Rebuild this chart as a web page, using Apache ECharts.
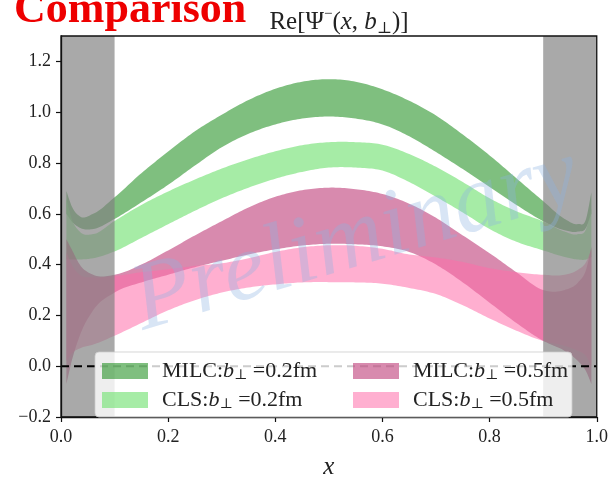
<!DOCTYPE html>
<html>
<head>
<meta charset="utf-8">
<script src="https://cdn.jsdelivr.net/npm/echarts@6/dist/echarts.min.js"></script>
<style>
  html, body { margin: 0; padding: 0; background: #ffffff; }
  #chart { width: 611px; height: 485px; }
</style>
</head>
<body>
<div id="chart"></div>
<script>
// Sample positions in x (momentum fraction)
const xs = [0.01, 0.02, 0.035, 0.06, 0.1, 0.15, 0.2, 0.25, 0.3, 0.35, 0.4, 0.45, 0.5,
            0.55, 0.6, 0.65, 0.7, 0.75, 0.8, 0.85, 0.9, 0.94, 0.965, 0.98, 0.99];

// MILC, b_perp = 0.2 fm
const milc02Hi = [0.69, 0.63, 0.59, 0.60, 0.665, 0.76, 0.845, 0.925, 0.99, 1.048, 1.092, 1.12, 1.13,
                  1.12, 1.09, 1.045, 0.987, 0.912, 0.83, 0.74, 0.65, 0.58, 0.56, 0.58, 0.685];
const milc02Lo = [0.60, 0.57, 0.545, 0.54, 0.58, 0.645, 0.714, 0.79, 0.862, 0.915, 0.952, 0.975, 0.983,
                  0.975, 0.952, 0.905, 0.843, 0.776, 0.706, 0.635, 0.571, 0.535, 0.53, 0.545, 0.60];

// CLS, b_perp = 0.2 fm
const cls02Hi = [0.66, 0.58, 0.53, 0.52, 0.572, 0.635, 0.688, 0.735, 0.778, 0.815, 0.846, 0.87, 0.882,
                 0.882, 0.872, 0.835, 0.785, 0.725, 0.661, 0.61, 0.57, 0.53, 0.52, 0.54, 0.62];
const cls02Lo = [0.42, 0.42, 0.42, 0.425, 0.452, 0.505, 0.559, 0.612, 0.661, 0.703, 0.738, 0.765, 0.782,
                 0.782, 0.77, 0.725, 0.667, 0.605, 0.54, 0.49, 0.456, 0.43, 0.42, 0.42, 0.43];

// MILC, b_perp = 0.5 fm
const milc05Hi = [0.50, 0.46, 0.40, 0.36, 0.36, 0.40, 0.456, 0.515, 0.571, 0.625, 0.667, 0.693, 0.703,
                  0.697, 0.678, 0.64, 0.584, 0.515, 0.445, 0.37, 0.30, 0.30, 0.33, 0.38, 0.47];
const milc05Lo = [-0.07, 0.02, 0.12, 0.22, 0.29, 0.33, 0.36, 0.39, 0.415, 0.44, 0.46, 0.475, 0.482,
                  0.48, 0.472, 0.45, 0.40, 0.33, 0.25, 0.17, 0.10, 0.06, 0.02, -0.02, -0.07];

// CLS, b_perp = 0.5 fm
const cls05Hi = [0.45, 0.40, 0.36, 0.35, 0.355, 0.37, 0.382, 0.395, 0.405, 0.425, 0.45, 0.468, 0.476,
                 0.474, 0.462, 0.44, 0.428, 0.41, 0.386, 0.37, 0.36, 0.36, 0.38, 0.41, 0.46];
const cls05Lo = [0.02, 0.05, 0.07, 0.085, 0.12, 0.17, 0.22, 0.26, 0.29, 0.31, 0.322, 0.33, 0.331,
                 0.33, 0.325, 0.308, 0.284, 0.24, 0.188, 0.14, 0.099, 0.08, 0.06, 0.04, 0.0];

// Endpoint regions that are shaded out
const excludedRanges = [[0.0, 0.1], [0.9, 1.0]];

// Axis ticks
const xTicks = [0.0, 0.2, 0.4, 0.6, 0.8, 1.0];
const yTicks = [-0.2, 0.0, 0.2, 0.4, 0.6, 0.8, 1.0, 1.2];
const yMin = -0.2, yMax = 1.3;

const seriesNames = {
  milc02: 'MILC:b⊥ =0.2fm',
  cls02: 'CLS:b⊥ =0.2fm',
  milc05: 'MILC:b⊥ =0.5fm',
  cls05: 'CLS:b⊥ =0.5fm'
};

const SERIF = '"Liberation Serif", "DejaVu Serif", serif';

// Cubic Hermite interpolation with three-point derivative estimates
function smoothCurve(x, y, steps) {
  const n = x.length;
  const h = [], d = [], m = new Array(n);
  for (let i = 0; i < n - 1; i++) {
    h.push(x[i + 1] - x[i]);
    d.push((y[i + 1] - y[i]) / h[i]);
  }
  m[0] = d[0];
  m[n - 1] = d[n - 2];
  for (let i = 1; i < n - 1; i++) {
    m[i] = (d[i - 1] * h[i] + d[i] * h[i - 1]) / (h[i - 1] + h[i]);
  }
  const out = [];
  for (let i = 0; i < n - 1; i++) {
    for (let s = 0; s < steps; s++) {
      const t = s / steps, t2 = t * t, t3 = t2 * t;
      const v = (2 * t3 - 3 * t2 + 1) * y[i] + (t3 - 2 * t2 + t) * h[i] * m[i]
              + (-2 * t3 + 3 * t2) * y[i + 1] + (t3 - t2) * h[i] * m[i + 1];
      out.push([x[i] + t * h[i], v]);
    }
  }
  out.push([x[n - 1], y[n - 1]]);
  return out;
}

// A shaded band between a lower and an upper curve
function band(name, lo, hi, color) {
  return {
    type: 'custom', name: name, silent: true, z: 2, clip: true,
    data: xs.map((x, i) => [x, lo[i], hi[i]]),
    encode: { x: 0, y: [1, 2] },
    itemStyle: { color: color },
    renderItem: function (params, api) {
      if (params.dataIndex !== 0) return null;
      const upper = smoothCurve(xs, hi, 12).map(p => api.coord(p));
      const lower = smoothCurve(xs, lo, 12).map(p => api.coord(p)).reverse();
      return {
        type: 'polygon',
        shape: { points: upper.concat(lower) },
        style: { fill: color }
      };
    }
  };
}

function richName(name) {
  const parts = name.split('b⊥');
  return parts[0] + '{i|b}{s|⊥}' + parts[1];
}

const legendText = {
  fontFamily: SERIF, fontSize: 22, color: '#222', lineHeight: 22,
  padding: [0, 0, 0, 9],
  rich: {
    i: { fontFamily: SERIF, fontSize: 22, fontStyle: 'italic', color: '#222', lineHeight: 22 },
    s: { fontFamily: SERIF, fontSize: 14, color: '#222', lineHeight: 10, verticalAlign: 'bottom' }
  }
};

const chart = echarts.init(document.getElementById('chart'), null, { renderer: 'canvas' });

const option = {
  animation: false,
  backgroundColor: '#ffffff',
  title: {
    text: 'Re[Ψ{sup|−}({i|x}, {i|b}{sub|⊥})]',
    left: 334, top: 2, textAlign: 'center',
    textStyle: {
      fontFamily: SERIF, fontSize: 25, fontWeight: 'normal', color: '#222', lineHeight: 30,
      rich: {
        i: { fontFamily: SERIF, fontSize: 25, fontStyle: 'italic', color: '#222', lineHeight: 30 },
        sup: { fontFamily: SERIF, fontSize: 15, color: '#222', lineHeight: 16, verticalAlign: 'top' },
        sub: { fontFamily: SERIF, fontSize: 16, color: '#222', lineHeight: 10, verticalAlign: 'bottom' }
      }
    }
  },
  grid: {
    left: 61, right: 6, top: 36, bottom: 56,
    show: true, borderColor: '#111', borderWidth: 1.3, backgroundColor: 'transparent', z: 7
  },
  xAxis: {
    type: 'value', min: 0, max: 1, interval: 0.2, z: 7,
    name: 'x', nameLocation: 'middle', nameGap: 38,
    nameTextStyle: { fontFamily: SERIF, fontSize: 25, fontStyle: 'italic', color: '#222' },
    axisLine: { show: true, onZero: false, lineStyle: { color: '#111', width: 1.3 } },
    axisTick: { show: true, length: 5, lineStyle: { color: '#111', width: 1.2 } },
    axisLabel: {
      margin: 11, fontFamily: SERIF, fontSize: 18, color: '#222',
      customValues: xTicks,
      formatter: v => v.toFixed(1)
    },
    splitLine: { show: false }
  },
  yAxis: {
    type: 'value', min: yMin, max: yMax, z: 7,
    axisLine: { show: true, onZero: false, lineStyle: { color: '#111', width: 1.3 } },
    axisTick: { show: true, length: 5, customValues: yTicks, lineStyle: { color: '#111', width: 1.2 } },
    axisLabel: {
      margin: 10, fontFamily: SERIF, fontSize: 18, color: '#222',
      customValues: yTicks,
      formatter: v => (v < 0 ? '−' + Math.abs(v).toFixed(1) : v.toFixed(1))
    },
    splitLine: { show: false }
  },
  legend: [
    {
      left: 97, top: 355, orient: 'vertical', z: 10,
      data: [seriesNames.milc02, seriesNames.cls02],
      icon: 'rect', itemWidth: 46, itemHeight: 16, itemGap: 7,
      formatter: richName, textStyle: legendText, selectedMode: false
    },
    {
      left: 348, top: 355, orient: 'vertical', z: 10,
      data: [seriesNames.milc05, seriesNames.cls05],
      icon: 'rect', itemWidth: 46, itemHeight: 16, itemGap: 7,
      formatter: richName, textStyle: legendText, selectedMode: false
    }
  ],
  graphic: [
    {
      type: 'text', left: 14, top: -11, z: 20,
      style: {
        text: 'Comparison', fill: '#ee0000',
        font: 'bold 44px "Liberation Serif", serif'
      }
    },
    {
      type: 'text', x: 356, y: 240, rotation: 0.29, z: 8, silent: true,
      style: {
        text: 'Preliminary', fill: 'rgba(140,180,225,0.34)',
        font: 'italic 96px "Liberation Serif", serif',
        align: 'center', verticalAlign: 'middle'
      }
    },
    {
      type: 'rect', z: 9, silent: true,
      shape: { x: 95, y: 352, width: 477, height: 65, r: 4 },
      style: { fill: 'rgba(255,255,255,0.8)', stroke: 'rgba(204,204,204,0.8)', lineWidth: 1 }
    }
  ],
  series: [
    band(seriesNames.milc02, milc02Lo, milc02Hi, 'rgba(0,128,0,0.5)'),
    band(seriesNames.cls02, cls02Lo, cls02Hi, 'rgba(128,228,128,0.7)'),
    band(seriesNames.milc05, milc05Lo, milc05Hi, 'rgba(190,60,120,0.6)'),
    band(seriesNames.cls05, cls05Lo, cls05Hi, 'rgba(255,110,170,0.55)'),
    {
      type: 'custom', name: 'excluded', silent: true, z: 5,
      data: excludedRanges,
      encode: { x: [0, 1] },
      renderItem: function (params, api) {
        const p0 = api.coord([api.value(0), yMax]);
        const p1 = api.coord([api.value(1), yMin]);
        return {
          type: 'rect',
          shape: { x: p0[0], y: p0[1], width: p1[0] - p0[0], height: p1[1] - p0[1] },
          style: { fill: 'rgba(128,128,128,0.68)' }
        };
      }
    },
    {
      type: 'line', name: 'zero', silent: true, z: 6,
      data: [[0, 0], [1, 0]], symbol: 'none',
      lineStyle: { color: '#000', width: 2, type: [8, 5] }
    }
  ]
};

chart.setOption(option);
</script>
</body>
</html>
